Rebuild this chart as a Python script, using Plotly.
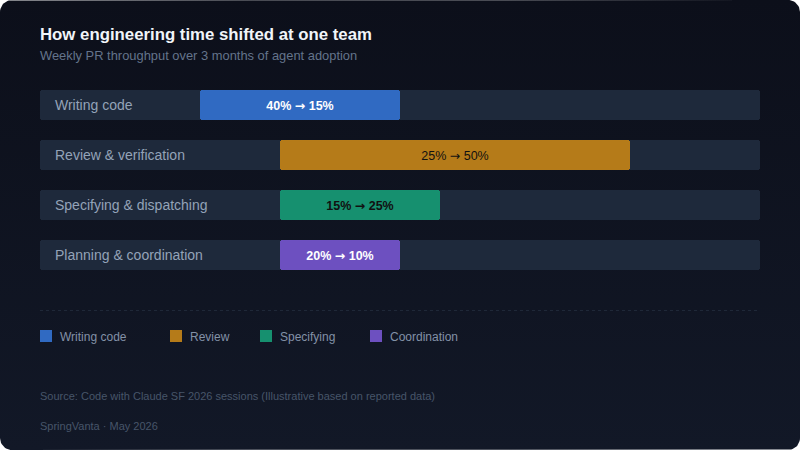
import math
import plotly.graph_objects as go

# ---------------- data ----------------
categories = ["Writing code", "Review & verification", "Specifying & dispatching", "Planning & coordination"]
share_before = [40, 25, 15, 20]
share_after = [15, 50, 25, 10]
bar_start = [22.2, 33.3, 33.3, 33.3]
bar_end = [50.0, 81.9, 55.6, 50.0]
track_max = 100
legend_names = ["Writing code", "Review", "Specifying", "Coordination"]

# ---------------- style ----------------
W, H = 800, 450
FONT = "Liberation Sans, Arial, Helvetica, sans-serif"
TRACK = "#1e293b"
bar_colors = ["#306ac2", "#b57b19", "#16906f", "#6d50c0"]
text_colors = ["#ffffff", "#111111", "#111111", "#ffffff"]
text_weights = [600, 500, 600, 600]

def px(x):
    return x / W

def py(y):
    return 1 - y / H

ARROW = "<span style='font-family:DejaVu Sans'>\u2192</span>"
labels = [f"{b}% {ARROW} {a}%" for b, a in zip(share_before, share_after)]
widths = [e - s for s, e in zip(bar_start, bar_end)]

fig = go.Figure()

# ---- rounded card background with gradient (on background axes x/y) ----
r = 12
cx, cy = [], []
corners = [(W - r, H - r, 0, 90), (r, H - r, 90, 180), (r, r, 180, 270), (W - r, r, 270, 360)]
for ccx, ccy, a0, a1 in corners:
    for k in range(13):
        a = math.radians(a0 + (a1 - a0) * k / 12)
        cx.append(ccx + r * math.cos(a))
        cy.append(ccy + r * math.sin(a))
cx.append(cx[0]); cy.append(cy[0])
fig.add_trace(go.Scatter(
    x=cx, y=cy, mode="lines", fill="toself", line=dict(width=0, color="rgba(0,0,0,0)"),
    fillgradient=dict(type="vertical", start=0, stop=H,
                      colorscale=[[0, "#121827"], [1, "#0c0f1a"]]),
    hoverinfo="skip", showlegend=False, xaxis="x", yaxis="y",
))

# background tracks
fig.add_trace(go.Bar(
    y=categories, x=[track_max] * len(categories), base=[0] * len(categories),
    orientation="h", width=0.6, marker=dict(color=TRACK, cornerradius=3, line=dict(width=0)),
    hoverinfo="skip", showlegend=False, xaxis="x2", yaxis="y2",
))

# shift bars
fig.add_trace(go.Bar(
    y=categories, x=widths, base=bar_start, orientation="h", width=0.6,
    marker=dict(color=bar_colors, cornerradius=3, line=dict(width=0)),
    text=labels, textposition="inside", insidetextanchor="middle",
    textangle=0, constraintext="none",
    textfont=dict(family=FONT, size=12.5, color=text_colors, weight=text_weights),
    hoverinfo="skip", showlegend=False, xaxis="x2", yaxis="y2",
))

shapes = []
# divider
shapes.append(dict(type="line", xref="paper", yref="paper", x0=px(40), x1=px(760),
                   y0=py(310.5), y1=py(310.5), line=dict(color="#1f2838", width=1, dash="dot"),
                   layer="above"))

annotations = []
annotations.append(dict(text="How engineering time shifted at one team", xref="paper", yref="paper",
                         x=px(38), y=py(34), xanchor="left", yanchor="middle", showarrow=False,
                         font=dict(family=FONT, size=16.8, color="#f1f5f9", weight=600)))
annotations.append(dict(text="Weekly PR throughput over 3 months of agent adoption", xref="paper", yref="paper",
                         x=px(38), y=py(55), xanchor="left", yanchor="middle", showarrow=False,
                         font=dict(family=FONT, size=12.9, color="#64748b")))

# row labels
for cat in categories:
    annotations.append(dict(text=cat, xref="paper", yref="y2", x=px(53), y=cat,
                            xanchor="left", yanchor="middle", showarrow=False,
                            font=dict(family=FONT, size=14, color="#94a3b8")))

# legend
legend_x = [40, 170, 260, 370]
for name, col, lx in zip(legend_names, bar_colors, legend_x):
    shapes.append(dict(type="rect", xref="paper", yref="paper",
                       x0=px(lx), x1=px(lx + 12), y0=py(342), y1=py(330),
                       fillcolor=col, line=dict(width=0), layer="above"))
    annotations.append(dict(text=name, xref="paper", yref="paper", x=px(lx + 18), y=py(336.5),
                            xanchor="left", yanchor="middle", showarrow=False,
                            font=dict(family=FONT, size=12, color="#8391a7")))

annotations.append(dict(text="Source: Code with Claude SF 2026 sessions (Illustrative based on reported data)",
                        xref="paper", yref="paper", x=px(38), y=py(396), xanchor="left", yanchor="middle",
                        showarrow=False, font=dict(family=FONT, size=11, color="#475569")))
annotations.append(dict(text="SpringVanta \u00b7 May 2026",
                        xref="paper", yref="paper", x=px(38), y=py(426), xanchor="left", yanchor="middle",
                        showarrow=False, font=dict(family=FONT, size=11, color="#475569")))

hidden = dict(showgrid=False, zeroline=False, showticklabels=False, showline=False, fixedrange=True)
fig.update_layout(
    width=W, height=H, autosize=False,
    margin=dict(l=0, r=0, t=0, b=0, pad=0),
    paper_bgcolor="#ffffff", plot_bgcolor="rgba(0,0,0,0)",
    barmode="overlay", bargap=0,
    showlegend=False,
    xaxis=dict(domain=[0, 1], range=[0, W], **hidden),
    yaxis=dict(domain=[0, 1], range=[0, H], **hidden),
    xaxis2=dict(domain=[px(40), px(760)], range=[0, track_max], anchor="y2", **hidden),
    yaxis2=dict(domain=[py(280), py(80)], type="category", categoryorder="array",
                categoryarray=categories, range=[len(categories) - 0.5, -0.5], anchor="x2", **hidden),
    shapes=shapes, annotations=annotations,
    font=dict(family=FONT),
)

fig.write_html("out.html", config={"displayModeBar": False},
               post_script="document.body.style.margin='0';")
